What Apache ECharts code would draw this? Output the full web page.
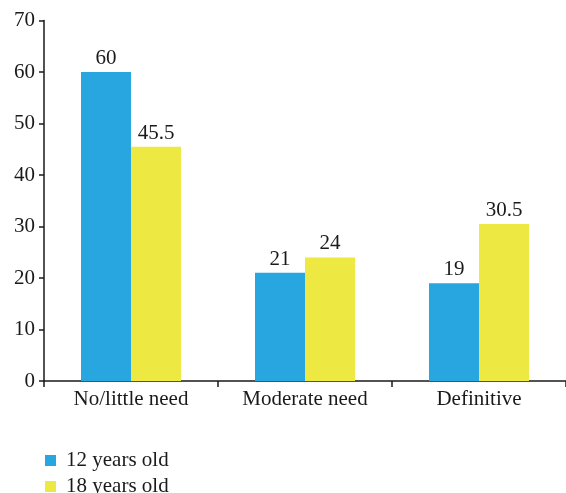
<!DOCTYPE html>
<html><head><meta charset="utf-8">
<script src="https://cdn.jsdelivr.net/npm/echarts@6/dist/echarts.min.js"></script>
<style>html,body{margin:0;padding:0;background:#fff}#c{width:566px;height:493px}</style>
</head><body><div id="c"></div>
<script>
const categories = ['No/little need', 'Moderate need', 'Definitive'];
const seriesNames = ['12 years old', '18 years old'];
const age12 = [60, 21, 19];
const age18 = [45.5, 24, 30.5];
const colors = ['#27A6E0', '#EEE843'];
const FONT = 'Liberation Serif';
const FS = 21;
const chart = echarts.init(document.getElementById('c'));
const lbl = {show: true, position: 'top', color: '#1a1a1a', fontFamily: FONT, fontSize: FS, distance: 3};
chart.setOption({
  animation: false,
  textStyle: {fontFamily: FONT},
  grid: {left: 44, top: 20.5, width: 525, height: 360.5, containLabel: false},
  legend: {
    orient: 'vertical', left: 40, top: 445, height: 200, itemWidth: 11, itemHeight: 11, itemGap: 5,
    icon: 'rect',
    textStyle: {fontFamily: FONT, fontSize: FS, color: '#1a1a1a', padding: [0, 0, 0, 5]},
    data: seriesNames
  },
  xAxis: {
    type: 'category', data: categories,
    axisLine: {lineStyle: {color: '#1a1a1a', width: 1.5}},
    axisTick: {show: true, length: 6, lineStyle: {color: '#1a1a1a', width: 1.5}},
    axisLabel: {fontFamily: FONT, fontSize: FS, color: '#1a1a1a', margin: 8}
  },
  yAxis: {
    type: 'value', min: 0, max: 70, interval: 10,
    axisLine: {show: true, lineStyle: {color: '#1a1a1a', width: 1.5}},
    axisTick: {show: true, length: 5, lineStyle: {color: '#1a1a1a', width: 1.5}},
    splitLine: {show: false},
    axisLabel: {fontFamily: FONT, fontSize: FS, color: '#1a1a1a', margin: 9}
  },
  series: [
    {name: seriesNames[0], type: 'bar', data: age12, barWidth: 50, barGap: '0%', itemStyle: {color: colors[0]}, label: lbl},
    {name: seriesNames[1], type: 'bar', data: age18, barWidth: 50, barGap: '0%', itemStyle: {color: colors[1]}, label: lbl}
  ]
});
</script></body></html>
